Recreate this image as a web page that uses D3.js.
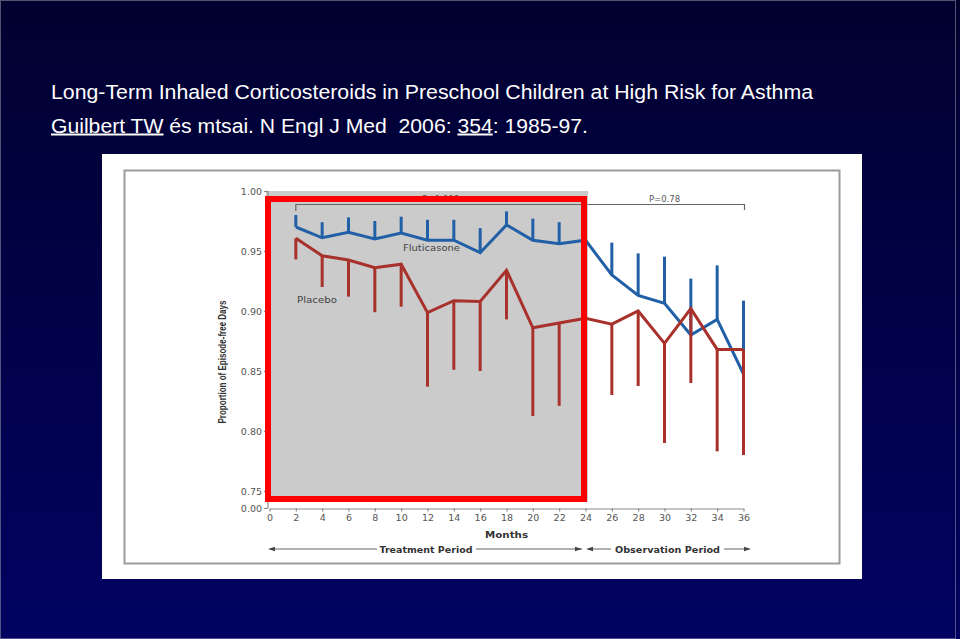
<!DOCTYPE html>
<html>
<head>
<meta charset="utf-8">
<script src="https://cdn.jsdelivr.net/npm/d3@7"></script>
<style>
  html, body { margin: 0; padding: 0; background: #000040; }
  svg { display: block; }
  text { white-space: pre; }
</style>
</head>
<body>
<script>
// ---- Data ----
const months = [2,4,6,8,10,12,14,16,18,20,22,24,26,28,30,32,34,36];
const fluticasoneMean  = [0.970,0.961,0.9656,0.960,0.965,0.959,0.959,0.9486,0.9717,0.959,0.956,0.959,0.930,0.913,0.9064,0.880,0.893,0.8475];
const fluticasoneUpper = [0.980,0.974,0.978,0.975,0.9786,0.976,0.976,0.969,0.983,0.977,0.974,0.976,0.957,0.948,0.9453,0.927,0.938,0.9086];
const placeboMean  = [0.9606,0.946,0.9425,0.936,0.939,0.8986,0.9086,0.908,0.934,0.886,0.890,0.894,0.889,0.900,0.873,0.902,0.868,0.868];
const placeboLower = [0.943,0.920,0.912,0.899,0.9036,0.837,0.851,0.850,0.893,0.8125,0.821,0.830,0.830,0.8375,0.790,0.840,0.783,0.780];
const yTicks = [0.75,0.80,0.85,0.90,0.95,1.00];
const yBreakTick = [0.00];
const xTicks = [0,2,4,6,8,10,12,14,16,18,20,22,24,26,28,30,32,34,36];
const titleLine1 = "Long-Term Inhaled Corticosteroids in Preschool Children at High Risk for Asthma";
const seriesNames = ["Fluticasone","Placebo"];
const pValues = ["P=0.006","P=0.78"];
const periods = ["Treatment Period","Observation Period"];

const W = 960, H = 639;
const svg = d3.select("body").append("svg").attr("width", W).attr("height", H);

// background gradient
const defs = svg.append("defs");
const g = defs.append("linearGradient").attr("id","bg").attr("x1",0).attr("y1",0).attr("x2",0).attr("y2",1);
g.append("stop").attr("offset","0%").attr("stop-color","#01012f");
g.append("stop").attr("offset","100%").attr("stop-color","#020262");
svg.append("rect").attr("width",W).attr("height",H).attr("fill","url(#bg)");
svg.append("rect").attr("x",0.5).attr("y",0.5).attr("width",955).attr("height",638)
  .attr("fill","none").attr("stroke","#8a8aa0").attr("stroke-width",1).attr("opacity",0.6);

// title
const tf = "'Liberation Sans', Arial, sans-serif";
svg.append("text").attr("x",51).attr("y",98.5).attr("fill","#fff")
  .attr("font-family",tf).attr("font-size",20)
  .attr("textLength",762).attr("lengthAdjust","spacingAndGlyphs").text(titleLine1);
const t2 = svg.append("text").attr("x",51).attr("y",132.5).attr("fill","#fff")
  .attr("font-family",tf).attr("font-size",20)
  .attr("textLength",537).attr("lengthAdjust","spacingAndGlyphs");
t2.append("tspan").attr("text-decoration","underline").text("Guilbert TW");
t2.append("tspan").text(" és mtsai. N Engl J Med  2006: ");
t2.append("tspan").attr("text-decoration","underline").text("354");
t2.append("tspan").text(": 1985-97.");

// white panel & inner framed chart
svg.append("rect").attr("x",102).attr("y",154).attr("width",760).attr("height",425).attr("fill","#fff");
svg.append("rect").attr("x",124.5).attr("y",170.5).attr("width",715).attr("height",393)
  .attr("fill","#fff").attr("stroke","#9c9c9c").attr("stroke-width",2);

// scales
const x = d3.scaleLinear().domain([0,36]).range([269.5,743.5]);
const y = d3.scaleLinear().domain([0.75,1.00]).range([491,191]);
const yBreak = d3.scaleLinear().domain([0,0.01]).range([508,500]);

// gray treatment area
svg.append("rect").attr("x",266).attr("y",191).attr("width",322).attr("height",311).attr("fill","#cbcbcb");

const cf = "'DejaVu Sans', Verdana, sans-serif";

// p-value brackets
svg.append("path")
  .attr("d",`M${x(2)},211 V204.5 H${x(24)-1} M${x(24)+2},204.5 H${x(36)+1} V210`)
  .attr("fill","none").attr("stroke","#666").attr("stroke-width",1.2);
svg.append("text").attr("x",(x(2)+x(24))/2).attr("y",202).attr("text-anchor","middle")
  .attr("font-family",cf).attr("font-size",8.5).attr("fill","#555").text(pValues[0]);
svg.append("text").attr("x",(x(24)+x(36))/2).attr("y",202).attr("text-anchor","middle")
  .attr("font-family",cf).attr("font-size",8.5).attr("fill","#555").text(pValues[1]);

// axes
function styleAxis(sel){
  sel.selectAll("path,line").attr("stroke","#8a8a8a").attr("stroke-width",1.2);
  sel.selectAll("text").attr("font-family",cf).attr("font-size",9.5).attr("fill","#555");
}
const yAx = svg.append("g").attr("transform","translate(268,0)")
  .call(d3.axisLeft(y).tickValues(yTicks).tickFormat(d3.format(".2f")).tickSize(4).tickPadding(2).tickSizeOuter(0));
styleAxis(yAx);
yAx.select("path.domain").remove();
svg.append("line").attr("x1",268).attr("x2",268).attr("y1",191).attr("y2",508).attr("stroke","#8a8a8a").attr("stroke-width",1.2);
const yAx2 = svg.append("g").attr("transform","translate(268,0)")
  .call(d3.axisLeft(yBreak).tickValues(yBreakTick).tickFormat(d3.format(".2f")).tickSize(4).tickPadding(2).tickSizeOuter(0));
styleAxis(yAx2);
yAx2.select("path.domain").remove();

const xAx = svg.append("g").attr("transform","translate(0,508.5)")
  .call(d3.axisBottom(x).tickValues(xTicks).tickSize(3).tickPadding(2.5).tickSizeOuter(0));
styleAxis(xAx);

// axis titles
svg.append("text").attr("transform","translate(226,362) rotate(-90)").attr("text-anchor","middle")
  .attr("font-family","'Liberation Sans Narrow','Liberation Sans',Arial,sans-serif").attr("font-weight","bold")
  .attr("font-size",10).attr("fill","#333").attr("textLength",123).attr("lengthAdjust","spacingAndGlyphs")
  .text("Proportion of Episode-free Days");
svg.append("text").attr("x",506.5).attr("y",537.5).attr("text-anchor","middle")
  .attr("font-family",cf).attr("font-weight","bold").attr("font-size",9.5).attr("fill","#333")
  .attr("textLength",43).attr("lengthAdjust","spacingAndGlyphs").text("Months");

// period arrows
function arrowHead(xp, dir){
  svg.append("path").attr("d",`M${xp},549 l${-dir*7},-2.2 v4.4 Z`).attr("fill","#444");
}
svg.append("line").attr("x1",270).attr("x2",377).attr("y1",549).attr("y2",549).attr("stroke","#666").attr("stroke-width",1);
svg.append("line").attr("x1",476).attr("x2",582).attr("y1",549).attr("y2",549).attr("stroke","#666").attr("stroke-width",1);
arrowHead(268,-1); arrowHead(582,1);
svg.append("text").attr("x",426).attr("y",552.5).attr("text-anchor","middle")
  .attr("font-family",cf).attr("font-weight","bold").attr("font-size",9.5).attr("fill","#333")
  .attr("textLength",93).attr("lengthAdjust","spacingAndGlyphs").text(periods[0]);
svg.append("line").attr("x1",588).attr("x2",611).attr("y1",549).attr("y2",549).attr("stroke","#666").attr("stroke-width",1);
svg.append("line").attr("x1",724).attr("x2",749).attr("y1",549).attr("y2",549).attr("stroke","#666").attr("stroke-width",1);
arrowHead(586,-1); arrowHead(751,1);
svg.append("text").attr("x",667.5).attr("y",552.5).attr("text-anchor","middle")
  .attr("font-family",cf).attr("font-weight","bold").attr("font-size",9.5).attr("fill","#333")
  .attr("textLength",105).attr("lengthAdjust","spacingAndGlyphs").text(periods[1]);

// series
const blue = "#2160a6", red = "#a8312c";
const flut = months.map((m,i)=>({m, v:fluticasoneMean[i], e:fluticasoneUpper[i]}));
const plac = months.map((m,i)=>({m, v:placeboMean[i], e:placeboLower[i]}));
const line = d3.line().x(d=>x(d.m)).y(d=>y(d.v));

function drawSeries(data, color){
  const gS = svg.append("g");
  gS.selectAll("line").data(data).join("line")
    .attr("x1",d=>x(d.m)).attr("x2",d=>x(d.m)).attr("y1",d=>y(d.v)).attr("y2",d=>y(d.e))
    .attr("stroke",color).attr("stroke-width",3);
  gS.append("path").datum(data).attr("d",line).attr("fill","none")
    .attr("stroke",color).attr("stroke-width",3).attr("stroke-linejoin","miter");
}
drawSeries(flut, blue);
drawSeries(plac, red);

// series labels
svg.append("text").attr("x",403).attr("y",251).attr("font-family",cf).attr("font-size",8.5)
  .attr("fill","#444").attr("textLength",57).attr("lengthAdjust","spacingAndGlyphs").text(seriesNames[0]);
svg.append("text").attr("x",297).attr("y",303).attr("font-family",cf).attr("font-size",8.5)
  .attr("fill","#444").attr("textLength",40).attr("lengthAdjust","spacingAndGlyphs").text(seriesNames[1]);

// red highlight rectangle
svg.append("rect").attr("x",268).attr("y",199).attr("width",316).attr("height",300)
  .attr("fill","none").attr("stroke","#ff0000").attr("stroke-width",6);
</script>
</body>
</html>
